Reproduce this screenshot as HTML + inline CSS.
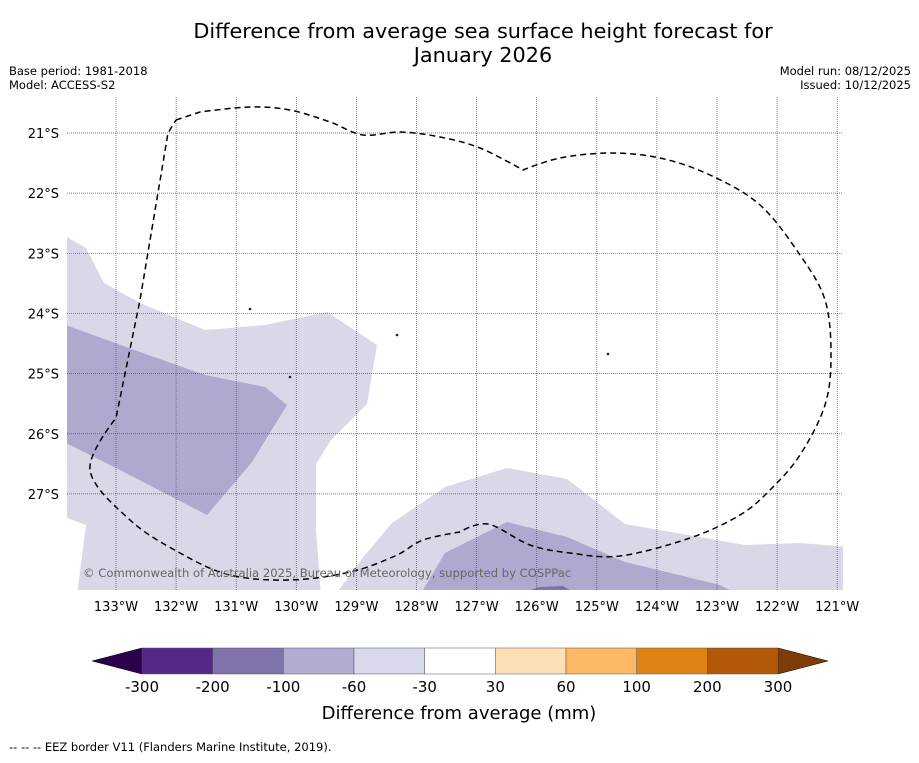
<!DOCTYPE html>
<html><head><meta charset="utf-8"><style>
body{margin:0;background:#fff;width:919px;height:758px;overflow:hidden;font-family:"Liberation Sans","DejaVu Sans",sans-serif}
</style></head><body>
<svg id="s" width="919" height="758" xmlns="http://www.w3.org/2000/svg" font-family="DejaVu Sans, Liberation Sans, sans-serif">
<text x="483" y="38" font-size="20.8" text-anchor="middle">Difference from average sea surface height forecast for</text>
<text x="483" y="62" font-size="20.8" text-anchor="middle">January 2026</text>
<text x="9" y="75" font-size="11.5">Base period: 1981-2018</text>
<text x="9" y="89" font-size="11.5">Model: ACCESS-S2</text>
<text x="911" y="75" font-size="11.5" text-anchor="end">Model run: 08/12/2025</text>
<text x="911" y="89" font-size="11.5" text-anchor="end">Issued: 10/12/2025</text>
<defs><clipPath id="cp"><rect x="67" y="97" width="776" height="493"/></clipPath></defs>
<g id="map" clip-path="url(#cp)"></g>
<g id="grid"></g>
<g id="eez"></g>
<text x="83" y="577" font-size="11.6" fill="#666">© Commonwealth of Australia 2025, Bureau of Meteorology, supported by COSPPac</text>
<g id="axes"></g>
<g id="cbar"></g>
<text x="459" y="719" font-size="18" text-anchor="middle">Difference from average (mm)</text>
<text x="9" y="751" font-size="11.5">--  --  -- EEZ border V11 (Flanders Marine Institute, 2019).</text>
</svg>
<script>
const lonTicks=[-133,-132,-131,-130,-129,-128,-127,-126,-125,-124,-123,-122,-121];
const latTicks=[-21,-22,-23,-24,-25,-26,-27];
const latLabels=["21°S","22°S","23°S","24°S","25°S","26°S","27°S"];
const cbarLevels=[-300,-200,-100,-60,-30,30,60,100,200,300];
const cbarColors=["#542788","#8073ac","#b2abd2","#d8daeb","#ffffff","#fee0b6","#fdb863","#e08214","#b35806"];
function P(pts){return pts.map(p=>[-133+(p[0]-116)/60.1,-21-(p[1]-133)/60.15]);}
const lightPoly=P([[60,233],[86,248],[104,283],[140,303],[205,330],[265,325],[327,312],[377,345],[367,404],[331,440],[316,464],[316,530],[321,595],[335,595],[365,555],[392,523],[445,487],[507,468],[567,479],[625,524],[745,545],[800,543],[850,547],[850,595],[77,595],[86,525],[60,515]]);
const medLeft=P([[60,323],[140,352],[205,375],[265,387],[287,405],[252,462],[207,515],[120,470],[100,460],[60,440]]);
const medRight=P([[420,595],[445,553],[507,522],[567,537],[625,562],[720,585],[740,595]]);
const darkPoly=P([[515,595],[540,587],[563,586],[578,595]]);
const eezLine=P([[176,120],[200,112],[250,107],[290,110],[330,122],[363,135],[400,132],[440,137],[480,148],[523,170],[560,158],[610,153],[660,158],[710,175],[760,205],[800,255],[825,300],[831,355],[825,405],[800,455],[770,490],[740,515],[690,538],[620,556],[570,553],[530,545],[488,524],[460,532],[423,540],[395,556],[350,572],[290,580],[230,575],[180,553],[130,520],[90,470],[116,418],[140,300],[168,133],[176,120]]);
const islands=P([[250,309],[397,335],[290,377],[608,354]]);
const X=lon=>116+(lon+133)*60.1, Y=lat=>133+(-21-lat)*60.15;
const NS="http://www.w3.org/2000/svg";
function mk(t,a,parent){const e=document.createElementNS(NS,t);for(const k in a)e.setAttribute(k,a[k]);parent.appendChild(e);return e;}
const pts=poly=>poly.map(p=>X(p[0]).toFixed(1)+","+Y(p[1]).toFixed(1)).join(" ");
function smooth(poly){const q=poly.map(p=>[X(p[0]),Y(p[1])]);let d="M"+q[0][0]+","+q[0][1];
const sharp=new Set([0,1,9,27,36,37,38,39]);
for(let i=0;i<q.length-1;i++){const p0=q[Math.max(i-1,0)],p1=q[i],p2=q[i+1],p3=q[Math.min(i+2,q.length-1)];
const t1=sharp.has(i)?0:1/6,t2=sharp.has(i+1)?0:1/6;
d+=` C${p1[0]+(p2[0]-p0[0])*t1},${p1[1]+(p2[1]-p0[1])*t1} ${p2[0]-(p3[0]-p1[0])*t2},${p2[1]-(p3[1]-p1[1])*t2} ${p2[0]},${p2[1]}`;}
return d;}
const map=document.getElementById('map');
let e;
e=mk('polygon',{points:pts(lightPoly),fill:"#d8d8e9"},map);


e=mk('polygon',{points:pts(medLeft),fill:"#afa9cf"},map);


e=mk('polygon',{points:pts(medRight),fill:"#afa9cf"},map);


e=mk('polygon',{points:pts(darkPoly),fill:"#7f72ac"},map);


islands.forEach(p=>{const c=mk('circle',{cx:X(p[0]),cy:Y(p[1]),r:1.3,fill:"#222"},map);

});
const grid=document.getElementById('grid'),axes=document.getElementById('axes');
lonTicks.forEach(l=>{const g=mk('line',{x1:X(l),x2:X(l),y1:97,y2:590,stroke:"#555","stroke-width":0.7,"stroke-dasharray":"1,1"},grid);


const t=mk('text',{x:X(l),y:611,"font-size":13,"text-anchor":"middle"},axes);t.textContent=Math.abs(l)+"°W";

});
latTicks.forEach((l,i)=>{const g=mk('line',{x1:67,x2:843,y1:Y(l),y2:Y(l),stroke:"#555","stroke-width":0.7,"stroke-dasharray":"1,1"},grid);


const t=mk('text',{x:59,y:Y(l)+5,"font-size":13,"text-anchor":"end"},axes);t.textContent=latLabels[i];

});
e=mk('path',{d:smooth(eezLine),fill:"none",stroke:"#000","stroke-width":1.5,"stroke-dasharray":"6,4"},document.getElementById('eez'));


const cb=document.getElementById('cbar');const cx0=142,cx1=778,cy0=648,cy1=674;const w=(cx1-cx0)/cbarColors.length;
e=mk('polygon',{points:`${cx0},${cy0} 92,661 ${cx0},${cy1}`,fill:"#2d004b",stroke:"#000","stroke-width":0.5},cb);


e=mk('polygon',{points:`${cx1},${cy0} 828,661 ${cx1},${cy1}`,fill:"#7f3b08",stroke:"#000","stroke-width":0.5},cb);


cbarColors.forEach((c,i)=>{const r=mk('rect',{x:cx0+i*w,y:cy0,width:w,height:cy1-cy0,fill:c,stroke:"#555","stroke-width":0.5},cb);

});
cbarLevels.forEach((v,i)=>{const t=mk('text',{x:cx0+i*w,y:692,"font-size":15,"text-anchor":"middle"},cb);t.textContent=v;

});
</script>
</body></html>
